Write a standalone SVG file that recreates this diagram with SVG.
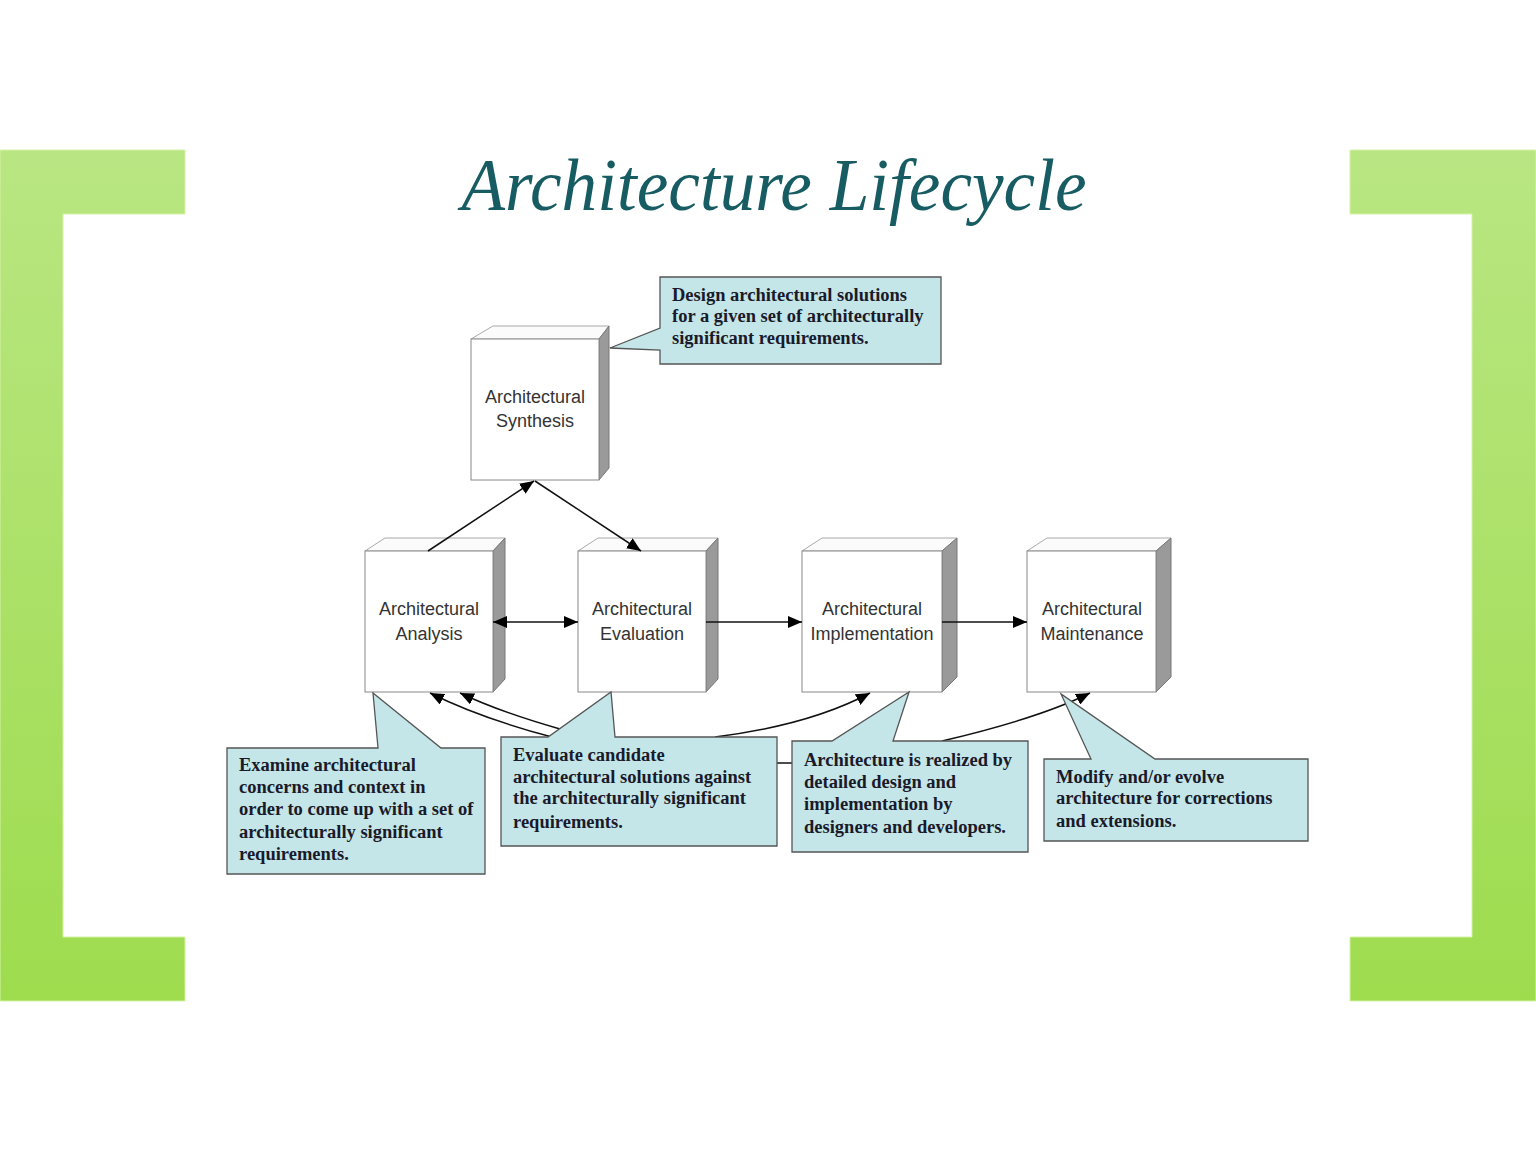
<svg xmlns="http://www.w3.org/2000/svg" width="1536" height="1152" viewBox="0 0 1536 1152">
<defs>
<linearGradient id="gr" x1="0" y1="150" x2="0" y2="1001" gradientUnits="userSpaceOnUse">
<stop offset="0" stop-color="#b9e682"/>
<stop offset="1" stop-color="#9edc4e"/>
</linearGradient>
<marker id="ah" viewBox="0 0 14 12" refX="14" refY="6" markerWidth="14" markerHeight="12" markerUnits="userSpaceOnUse" orient="auto-start-reverse">
<path d="M0,0 L14,6 L0,12 Z" fill="#000"/>
</marker>
<style>
.br{fill:url(#gr);stroke:#d6f3a6;stroke-width:1}
.front{fill:#fff;stroke:#888;stroke-width:1}
.top{fill:#fbfbfb;stroke:#aaa;stroke-width:1}
.side{fill:#9a9a9a;stroke:#777;stroke-width:1}
.bt{font-family:"Liberation Sans",Arial,sans-serif;font-size:18px;fill:#333;text-anchor:middle}
.co{fill:#c4e6e8;stroke:#555;stroke-width:1.3}
.ct{font-family:"Liberation Serif","Times New Roman",serif;font-weight:bold;font-size:18.5px;fill:#1a1a2a}
.ln{fill:none;stroke:#111;stroke-width:1.5}
.title{font-family:"Liberation Serif",serif;font-style:italic;font-size:74px;fill:#175c63}
</style>
</defs>
<rect width="1536" height="1152" fill="#fff"/>
<g id="brackets">
<polygon class="br" points="0,150 185,150 185,214 63,214 63,937 185,937 185,1001 0,1001"/>
<polygon class="br" points="1350,150 1536,150 1536,1001 1350,1001 1350,937 1472,937 1472,214 1350,214"/>
</g>
<text id="title" class="title" x="774" y="210" text-anchor="middle" textLength="625" lengthAdjust="spacingAndGlyphs">Architecture Lifecycle</text>

<g id="synthesis">
<polygon class="top" points="471,339 493,326 609,326 599,339"/>
<polygon class="side" points="599,339 609,326 609,468 599,480"/>
<rect class="front" x="471" y="339" width="128" height="141"/>
<text class="bt" x="535" y="403">Architectural</text>
<text class="bt" x="535" y="427">Synthesis</text>
</g>
<g id="analysis">
<polygon class="top" points="365,551 385,538 505,538 493,551"/>
<polygon class="side" points="493,551 505,538 505,679 493,692"/>
<rect class="front" x="365" y="551" width="128" height="141"/>
<text class="bt" x="429" y="615">Architectural</text>
<text class="bt" x="429" y="640">Analysis</text>
</g>
<g id="evaluation">
<polygon class="top" points="578,551 598,538 718,538 706,551"/>
<polygon class="side" points="706,551 718,538 718,679 706,692"/>
<rect class="front" x="578" y="551" width="128" height="141"/>
<text class="bt" x="642" y="615">Architectural</text>
<text class="bt" x="642" y="640">Evaluation</text>
</g>
<g id="implementation">
<polygon class="top" points="802,551 822,538 957,538 942,551"/>
<polygon class="side" points="942,551 957,538 957,677 942,692"/>
<rect class="front" x="802" y="551" width="140" height="141"/>
<text class="bt" x="872" y="615">Architectural</text>
<text class="bt" x="872" y="640">Implementation</text>
</g>
<g id="maintenance">
<polygon class="top" points="1027,551 1047,538 1171,538 1156,551"/>
<polygon class="side" points="1156,551 1171,538 1171,677 1156,692"/>
<rect class="front" x="1027" y="551" width="129" height="141"/>
<text class="bt" x="1092" y="615">Architectural</text>
<text class="bt" x="1092" y="640">Maintenance</text>
</g>

<g id="connectors">
<line class="ln" x1="428" y1="551" x2="534" y2="481" marker-end="url(#ah)"/>
<line class="ln" x1="535" y1="481" x2="641" y2="551" marker-end="url(#ah)"/>
<line class="ln" x1="493" y1="622" x2="578" y2="622" marker-start="url(#ah)" marker-end="url(#ah)"/>
<line class="ln" x1="706" y1="622" x2="802" y2="622" marker-end="url(#ah)"/>
<line class="ln" x1="942" y1="622" x2="1027" y2="622" marker-end="url(#ah)"/>
<path class="ln" d="M552,737 Q480,718 430,693" marker-end="url(#ah)"/>
<path class="ln" d="M560,729 Q500,712 460,693" marker-end="url(#ah)"/>
<path class="ln" d="M715,737 Q810,725 870,693" marker-end="url(#ah)"/>
<path class="ln" d="M942,741 Q1040,718 1090,693" marker-end="url(#ah)"/>
<line class="ln" x1="777" y1="763" x2="793" y2="763" stroke-width="2"/>
</g>

<g id="note-synthesis">
<polygon class="co" points="660,277 941,277 941,364 660,364 660,350 610,348 660,328"/>
<text class="ct" x="672" y="301">Design architectural solutions</text>
<text class="ct" x="672" y="322">for a given set of architecturally</text>
<text class="ct" x="672" y="344">significant requirements.</text>
</g>
<g id="note-analysis">
<polygon class="co" points="227,748 378,748 373,693 441,748 485,748 485,874 227,874"/>
<text class="ct" x="239" y="771">Examine architectural</text>
<text class="ct" x="239" y="793">concerns and context in</text>
<text class="ct" x="239" y="815">order to come up with a set of</text>
<text class="ct" x="239" y="838">architecturally significant</text>
<text class="ct" x="239" y="860">requirements.</text>
</g>
<g id="note-evaluation">
<polygon class="co" points="501,737 548,737 611,692 615,737 777,737 777,846 501,846"/>
<text class="ct" x="513" y="761">Evaluate candidate</text>
<text class="ct" x="513" y="783">architectural solutions against</text>
<text class="ct" x="513" y="804">the architecturally significant</text>
<text class="ct" x="513" y="828">requirements.</text>
</g>
<g id="note-implementation">
<polygon class="co" points="792,741 832,741 909,692 893,741 1028,741 1028,852 792,852"/>
<text class="ct" x="804" y="766">Architecture is realized by</text>
<text class="ct" x="804" y="788">detailed design and</text>
<text class="ct" x="804" y="810">implementation by</text>
<text class="ct" x="804" y="833">designers and developers.</text>
</g>
<g id="note-maintenance">
<polygon class="co" points="1044,759 1091,759 1061,694 1155,759 1308,759 1308,841 1044,841"/>
<text class="ct" x="1056" y="783">Modify and/or evolve</text>
<text class="ct" x="1056" y="804">architecture for corrections</text>
<text class="ct" x="1056" y="827">and extensions.</text>
</g>
</svg>
